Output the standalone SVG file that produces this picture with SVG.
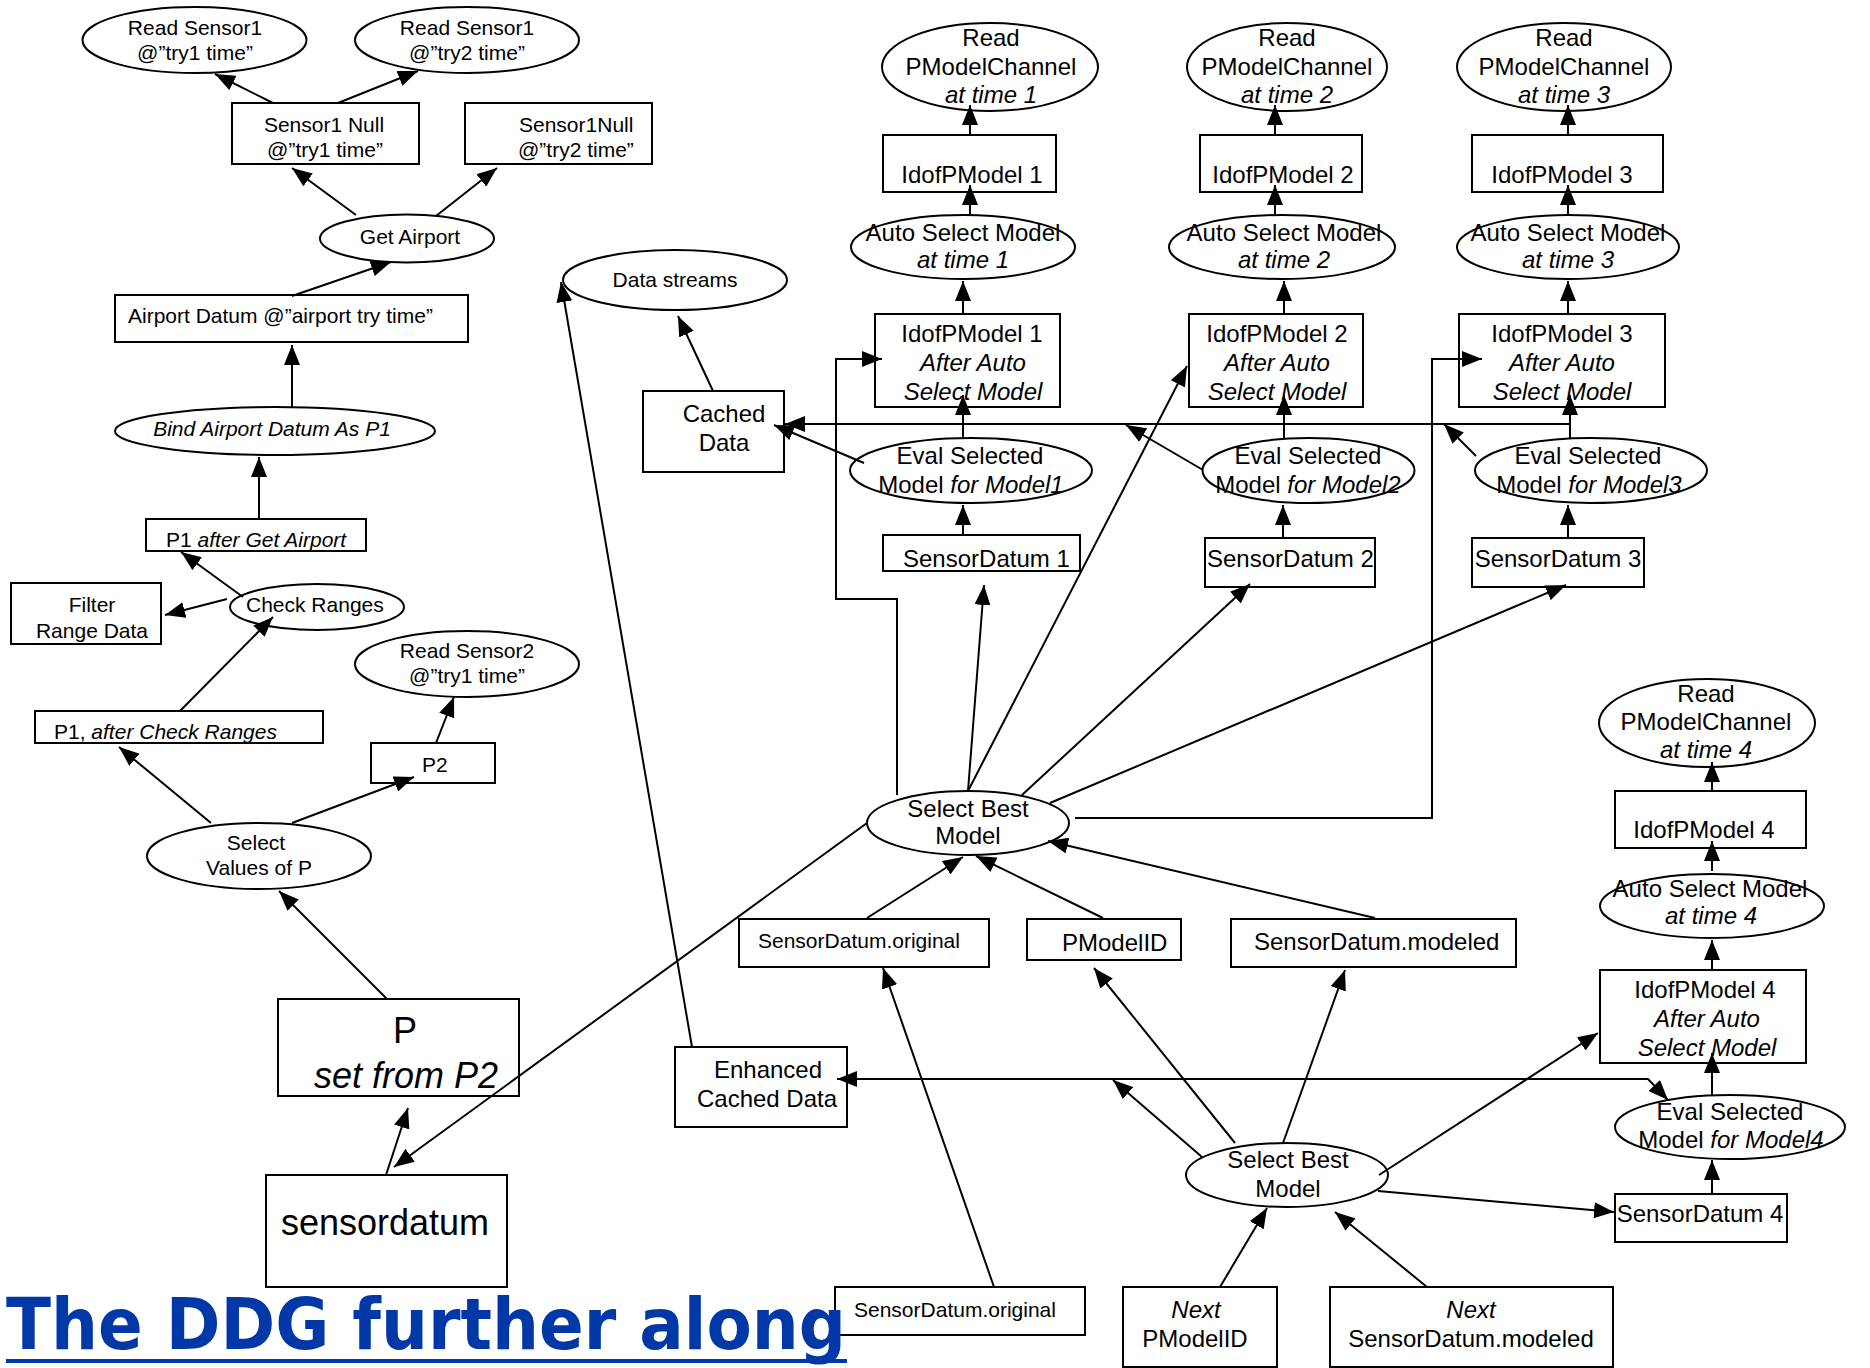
<svg xmlns="http://www.w3.org/2000/svg" width="1870" height="1368" viewBox="0 0 1870 1368">
<style>
.n ellipse,.n rect{fill:#fff;stroke:#000;stroke-width:2}
text{font-family:"Liberation Sans",Arial,sans-serif;font-size:21px;fill:#000}
.c text{text-anchor:middle}
.m text{font-size:24px}
.i{font-style:italic}
#edges line,#edges path{stroke:#000;stroke-width:2;fill:none;marker-end:url(#a)}
</style>
<defs>
<marker id="a" viewBox="0 0 20 16" refX="20" refY="8" markerWidth="20" markerHeight="16" markerUnits="userSpaceOnUse" orient="auto"><path d="M0,0 L20,8 L0,16 z" fill="#000"/></marker>
<marker id="b" viewBox="0 0 20 16" refX="20" refY="8" markerWidth="20" markerHeight="16" markerUnits="userSpaceOnUse" orient="auto-start-reverse"><path d="M0,0 L20,8 L0,16 z" fill="#000"/></marker>
</defs>
<rect width="1870" height="1368" fill="#fff"/>

<g id="nodes">
<g id="rs1a" class="n c"><ellipse cx="194.5" cy="40" rx="112" ry="33"/><text x="195" y="35">Read Sensor1</text><text x="195" y="60">@”try1 time”</text></g>
<g id="rs1b" class="n c"><ellipse cx="467" cy="40" rx="112" ry="33"/><text x="467" y="35">Read Sensor1</text><text x="467" y="60">@”try2 time”</text></g>
<g id="s1n" class="n c"><rect x="232" y="103" width="187" height="61"/><text x="324" y="132">Sensor1 Null</text><text x="325" y="157">@”try1 time”</text></g>
<g id="s1n2" class="n"><rect x="465" y="103" width="187" height="61"/><text x="519" y="132">Sensor1Null</text><text x="518" y="157">@”try2 time”</text></g>
<g id="ga" class="n c"><ellipse cx="407" cy="238.5" rx="87" ry="24"/><text x="410" y="244">Get Airport</text></g>
<g id="ad" class="n"><rect x="115" y="295" width="353" height="47"/><text x="128" y="323">Airport Datum @”airport try time”</text></g>
<g id="bind" class="n c"><ellipse cx="275" cy="431" rx="160" ry="24"/><text x="272" y="436" class="i">Bind Airport Datum As P1</text></g>
<g id="p1ga" class="n"><rect x="146" y="519" width="220" height="32"/><text x="166" y="547">P1 <tspan class="i">after Get Airport</tspan></text></g>
<g id="cr" class="n"><ellipse cx="317" cy="607" rx="87" ry="23"/><text x="246" y="612">Check Ranges</text></g>
<g id="frd" class="n c"><rect x="11" y="583" width="150" height="61"/><text x="92" y="612">Filter</text><text x="92" y="638">Range Data</text></g>
<g id="p1cr" class="n"><rect x="35" y="711" width="288" height="32"/><text x="54" y="739">P1, <tspan class="i">after Check Ranges</tspan></text></g>
<g id="rs2" class="n c"><ellipse cx="467" cy="664" rx="112" ry="33"/><text x="467" y="658">Read Sensor2</text><text x="467" y="683">@”try1 time”</text></g>
<g id="p2" class="n"><rect x="371" y="743" width="124" height="40"/><text x="422" y="772">P2</text></g>
<g id="svp" class="n c"><ellipse cx="259" cy="856" rx="112" ry="33"/><text x="256" y="850">Select</text><text x="259" y="875">Values of P</text></g>
<g id="p" class="n c"><rect x="278" y="999" width="241" height="97"/><text x="405" y="1043" style="font-size:36px">P</text><text x="406" y="1088" class="i" style="font-size:36px">set from P2</text></g>
<g id="sensordatum" class="n c"><rect x="266" y="1175" width="241" height="112"/><text x="385" y="1235" style="font-size:36px">sensordatum</text></g>

<g id="ds" class="n c"><ellipse cx="675" cy="280" rx="112" ry="30"/><text x="675" y="287">Data streams</text></g>
<g id="cd" class="n c m"><rect x="643" y="391" width="141" height="81"/><text x="724" y="422">Cached</text><text x="724" y="451">Data</text></g>

<g id="rpc1" class="n c m"><ellipse cx="990" cy="67" rx="108" ry="44"/><text x="991" y="46">Read</text><text x="991" y="75">PModelChannel</text><text x="991" y="103" class="i">at time 1</text></g>
<g id="rpc2" class="n c m"><ellipse cx="1287" cy="67" rx="100" ry="44"/><text x="1287" y="46">Read</text><text x="1287" y="75">PModelChannel</text><text x="1287" y="103" class="i">at time 2</text></g>
<g id="rpc3" class="n c m"><ellipse cx="1564" cy="67" rx="107" ry="44"/><text x="1564" y="46">Read</text><text x="1564" y="75">PModelChannel</text><text x="1564" y="103" class="i">at time 3</text></g>
<g id="idof1" class="n c m"><rect x="883" y="135" width="173" height="57"/><text x="972" y="183">IdofPModel 1</text></g>
<g id="idof2" class="n c m"><rect x="1200" y="135" width="162" height="57"/><text x="1283" y="183">IdofPModel 2</text></g>
<g id="idof3" class="n c m"><rect x="1472" y="135" width="191" height="57"/><text x="1562" y="183">IdofPModel 3</text></g>
<g id="asm1" class="n c m"><ellipse cx="963" cy="247" rx="112" ry="32"/><text x="963" y="241">Auto Select Model</text><text x="963" y="268" class="i">at time 1</text></g>
<g id="asm2" class="n c m"><ellipse cx="1282" cy="247" rx="113" ry="32"/><text x="1284" y="241">Auto Select Model</text><text x="1284" y="268" class="i">at time 2</text></g>
<g id="asm3" class="n c m"><ellipse cx="1568" cy="247" rx="111" ry="32"/><text x="1568" y="241">Auto Select Model</text><text x="1568" y="268" class="i">at time 3</text></g>
<g id="idof1a" class="n c m"><rect x="875" y="314" width="185" height="93"/><text x="972" y="342">IdofPModel 1</text><text x="973" y="371" class="i">After Auto</text><text x="973" y="400" class="i">Select Model</text></g>
<g id="idof2a" class="n c m"><rect x="1189" y="314" width="174" height="93"/><text x="1277" y="342">IdofPModel 2</text><text x="1277" y="371" class="i">After Auto</text><text x="1277" y="400" class="i">Select Model</text></g>
<g id="idof3a" class="n c m"><rect x="1459" y="314" width="206" height="93"/><text x="1562" y="342">IdofPModel 3</text><text x="1562" y="371" class="i">After Auto</text><text x="1562" y="400" class="i">Select Model</text></g>
<g id="eval1" class="n c m"><ellipse cx="971" cy="470.5" rx="121" ry="32.5"/><text x="970" y="464">Eval Selected</text><text x="971" y="493">Model <tspan class="i">for Model1</tspan></text></g>
<g id="eval2" class="n c m"><ellipse cx="1308.5" cy="470.5" rx="106" ry="32.5"/><text x="1308" y="464">Eval Selected</text><text x="1308" y="493">Model <tspan class="i">for Model2</tspan></text></g>
<g id="eval3" class="n c m"><ellipse cx="1591" cy="470.5" rx="116" ry="32.5"/><text x="1588" y="464">Eval Selected</text><text x="1589" y="493">Model <tspan class="i">for Model3</tspan></text></g>
<g id="sd1" class="n m"><rect x="883" y="535" width="197" height="36"/><text x="903" y="567">SensorDatum 1</text></g>
<g id="sd2" class="n m"><rect x="1205" y="538" width="170" height="49"/><text x="1207" y="567">SensorDatum 2</text></g>
<g id="sd3" class="n c m"><rect x="1472" y="538" width="172" height="49"/><text x="1558" y="567">SensorDatum 3</text></g>
<g id="sbm1" class="n c m"><ellipse cx="968" cy="823" rx="101" ry="32"/><text x="968" y="817">Select Best</text><text x="968" y="844">Model</text></g>

<g id="rpc4" class="n c m"><ellipse cx="1707" cy="723" rx="108" ry="44"/><text x="1706" y="702">Read</text><text x="1706" y="730">PModelChannel</text><text x="1706" y="758" class="i">at time 4</text></g>
<g id="idof4" class="n c m"><rect x="1615" y="791" width="191" height="57"/><text x="1704" y="838">IdofPModel 4</text></g>
<g id="asm4" class="n c m"><ellipse cx="1712" cy="906" rx="112" ry="32"/><text x="1710" y="897">Auto Select Model</text><text x="1711" y="924" class="i">at time 4</text></g>
<g id="idof4a" class="n c m"><rect x="1600" y="970" width="206" height="93"/><text x="1705" y="998">IdofPModel 4</text><text x="1707" y="1027" class="i">After Auto</text><text x="1707" y="1056" class="i">Select Model</text></g>
<g id="eval4" class="n c m"><ellipse cx="1730" cy="1127" rx="115" ry="32"/><text x="1730" y="1120">Eval Selected</text><text x="1731" y="1148">Model <tspan class="i">for Model4</tspan></text></g>
<g id="sd4" class="n c m"><rect x="1615" y="1194" width="172" height="48"/><text x="1700" y="1222">SensorDatum 4</text></g>

<g id="sdorig1" class="n"><rect x="739" y="919" width="250" height="48"/><text x="758" y="948">SensorDatum.original</text></g>
<g id="pmodelid" class="n m"><rect x="1027" y="919" width="154" height="41"/><text x="1062" y="951">PModelID</text></g>
<g id="sdmod" class="n m"><rect x="1231" y="919" width="285" height="48"/><text x="1254" y="950">SensorDatum.modeled</text></g>
<g id="ecd" class="n c m"><rect x="675" y="1047" width="172" height="80"/><text x="768" y="1078">Enhanced</text><text x="767" y="1107">Cached Data</text></g>
<g id="sbm2" class="n c m"><ellipse cx="1287" cy="1175" rx="101" ry="32"/><text x="1288" y="1168">Select Best</text><text x="1288" y="1197">Model</text></g>
<g id="sdorig2" class="n"><rect x="835" y="1287" width="250" height="48"/><text x="854" y="1317">SensorDatum.original</text></g>
<g id="nextpmid" class="n c m"><rect x="1123" y="1287" width="154" height="80"/><text x="1196" y="1318" class="i">Next</text><text x="1195" y="1347">PModelID</text></g>
<g id="nextsdm" class="n c m"><rect x="1330" y="1287" width="283" height="80"/><text x="1471" y="1318" class="i">Next</text><text x="1471" y="1347">SensorDatum.modeled</text></g>
</g>

<g id="edges">
<line x1="273" y1="103" x2="215" y2="74"/>
<line x1="338" y1="103" x2="418" y2="71"/>
<line x1="356" y1="215" x2="292" y2="168"/>
<line x1="436" y1="216" x2="497" y2="168"/>
<line x1="292" y1="296" x2="391" y2="262"/>
<line x1="292" y1="407" x2="292" y2="345"/>
<line x1="259" y1="519" x2="259" y2="457"/>
<line x1="243" y1="597" x2="181" y2="552"/>
<line x1="227" y1="599" x2="165" y2="615"/>
<line x1="180" y1="711" x2="273" y2="617"/>
<line x1="211" y1="823" x2="119" y2="747"/>
<line x1="292" y1="823" x2="414" y2="777"/>
<line x1="436" y1="743" x2="454" y2="697"/>
<line x1="387" y1="999" x2="279" y2="891"/>
<line x1="386" y1="1175" x2="408" y2="1108"/>
<line x1="867" y1="823" x2="394" y2="1167"/>
<line x1="692" y1="1047" x2="561" y2="282"/>
<line x1="713" y1="391" x2="678" y2="316"/>
<line x1="1570" y1="424" x2="785" y2="424"/>
<line x1="864" y1="463" x2="774" y2="425"/>
<line x1="1203" y1="470" x2="1126" y2="425"/>
<line x1="1476" y1="456" x2="1444" y2="424"/>
<line x1="963" y1="438" x2="963" y2="395"/>
<line x1="1284" y1="438" x2="1284" y2="395"/>
<line x1="1570" y1="438" x2="1570" y2="395"/>
<line x1="963" y1="535" x2="963" y2="505"/>
<line x1="1283" y1="538" x2="1283" y2="505"/>
<line x1="1568" y1="538" x2="1568" y2="505"/>
<line x1="963" y1="314" x2="963" y2="281"/>
<line x1="1284" y1="314" x2="1284" y2="281"/>
<line x1="1568" y1="314" x2="1568" y2="281"/>
<line x1="970" y1="215" x2="970" y2="185"/>
<line x1="1275" y1="215" x2="1275" y2="185"/>
<line x1="1568" y1="215" x2="1568" y2="185"/>
<line x1="970" y1="135" x2="970" y2="105"/>
<line x1="1275" y1="135" x2="1275" y2="105"/>
<line x1="1568" y1="135" x2="1568" y2="105"/>
<path d="M897,795 V599 H836 V359 H882"/>
<line x1="968" y1="791" x2="984" y2="585"/>
<line x1="968" y1="791" x2="1187" y2="366"/>
<line x1="1022" y1="795" x2="1250" y2="584"/>
<line x1="1050" y1="803" x2="1566" y2="585"/>
<path d="M1075,818 H1432 V359 H1482"/>
<line x1="867" y1="918" x2="963" y2="857"/>
<line x1="1103" y1="918" x2="976" y2="856"/>
<line x1="1375" y1="918" x2="1048" y2="841"/>
<line x1="1712" y1="791" x2="1712" y2="762"/>
<line x1="1712" y1="871" x2="1712" y2="841"/>
<line x1="1712" y1="970" x2="1712" y2="940"/>
<line x1="1712" y1="1095" x2="1712" y2="1053"/>
<line x1="1712" y1="1194" x2="1712" y2="1160"/>
<path d="M1668,1100 L1648,1079 H837" style="marker-start:url(#b)"/>
<line x1="1378" y1="1191" x2="1614" y2="1212"/>
<line x1="1379" y1="1175" x2="1598" y2="1033"/>
<line x1="1283" y1="1143" x2="1345" y2="970"/>
<line x1="1235" y1="1143" x2="1094" y2="968"/>
<line x1="1202" y1="1157" x2="1113" y2="1080"/>
<line x1="994" y1="1287" x2="883" y2="968"/>
<line x1="1220" y1="1287" x2="1267" y2="1208"/>
<line x1="1427" y1="1287" x2="1335" y2="1212"/>
</g>

<g id="title">
<text x="6" y="1349" textLength="840" lengthAdjust="spacingAndGlyphs" style="font-family:'Comic Sans MS','DejaVu Sans',sans-serif;font-size:72px;font-weight:bold;fill:#0038A8">The DDG further along</text>
<rect x="6" y="1359" width="841" height="4" fill="#0038A8"/>
</g>
</svg>
